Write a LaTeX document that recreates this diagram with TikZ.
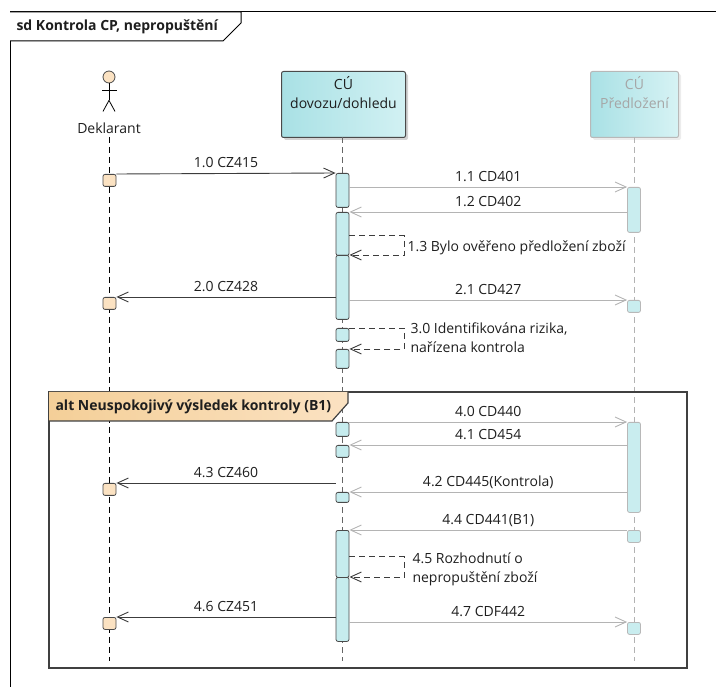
\documentclass[tikz,border=0pt]{standalone}
\usepackage{fontspec}
\setmainfont{Open Sans}
\usetikzlibrary{arrows.meta,shadows}

\definecolor{actfill}{HTML}{C6ECEE}
\definecolor{actline}{HTML}{4A4A4A}
\definecolor{palefill}{HTML}{C9EDEF}
\definecolor{paleline}{HTML}{B8B8B8}
\definecolor{peach}{HTML}{FBE2C2}
\definecolor{peachdark}{HTML}{F4CF98}
\definecolor{hdrleft}{HTML}{A9E1E5}
\definecolor{hdrright}{HTML}{D2F1F3}
\definecolor{msgdark}{HTML}{3C3C3C}
\definecolor{msgpale}{HTML}{B4B4B4}
\definecolor{txt}{HTML}{1E1E1E}

\begin{document}
\begin{tikzpicture}[x=1pt, y=-1pt,
	font=\fontsize{14}{19}\selectfont, text=txt,
	lifeline/.style={dash pattern=on 6pt off 4pt, line width=0.8pt},
	act/.style={rectangle, rounded corners=2pt, minimum width=13, inner sep=0pt,
		draw=actline, fill=actfill, line width=0.8pt, anchor=north},
	actpale/.style={act, draw=paleline, fill=palefill},
	actdekl/.style={act, fill=peach},
	msg/.style={-{Straight Barb[length=11pt,width=10pt]}, line width=0.9pt, draw=msgdark},
	msgpale/.style={msg, draw=msgpale},
	selfmsg/.style={msg, dash pattern=on 6pt off 4pt},
	lbl/.style={midway, anchor=base, yshift=5.5pt},
	frame/.style={line width=1pt, draw=black}]
	
	\useasboundingbox (0,0) rectangle (716,687);
	
	% outer frame and its title tab
	\draw[frame] (10,12) rectangle (730,700);
	\draw[frame, fill=white] (10,12) -- (241,12) -- (241,23) -- (223,41) -- (10,41);
	\node[anchor=west, font=\fontsize{14}{19}\selectfont\bfseries] (title) at (13,27) {sd Kontrola CP, nepropuštění};
	
	% the actor
	\node[circle, draw=actline, fill=peach, minimum size=12, inner sep=0pt, line width=0.8pt] (head) at (109,77) {};
	\draw[line width=0.8pt] (head.south) -- ++(0,17) coordinate (hip);
	\draw[line width=0.8pt] (102,90) -- (117,90);
	\draw[line width=0.8pt] (hip) -- ++(-6,11);
	\draw[line width=0.8pt] (hip) -- ++(6,11);
	\node (deklname) at (109,128) {Deklarant};
	
	% the two office heads
	\node[rounded corners=2pt, minimum width=124, minimum height=66, anchor=north west, draw=actline,
		line width=1pt, left color=hdrleft, right color=hdrright,
		drop shadow={shadow xshift=2.5pt, shadow yshift=-2.5pt, opacity=0.35}] (cu) at (281,71) {};
	\node[anchor=north, align=center, yshift=-2pt] (cutxt) at (cu.north) {CÚ\\dovozu/dohledu};
	\node[rounded corners=2pt, minimum width=88, minimum height=66, anchor=north west, draw=paleline,
		line width=1pt, left color=hdrleft, right color=hdrright!90!white,
		drop shadow={shadow xshift=2.5pt, shadow yshift=-2.5pt, opacity=0.15}] (pred) at (590,71) {};
	\node[anchor=north, align=center, yshift=-2pt, text=black!35] (predtxt) at (pred.north) {CÚ\\Předložení};
	
	% lifelines
	\coordinate (bottom) at (0,661);
	\draw[lifeline, draw=black] (deklname.south) -- (deklname.south |- bottom);
	\draw[lifeline, draw=black!60] (342.5,137) -- (342.5,661);
	\draw[lifeline, draw=black!30] (634,137) -- (634,661);
	
	% alt fragment
	\draw[line width=1.2pt, draw=black!75] (49,392) rectangle (687,668);
	\path[left color=peachdark, right color=peach] (49,392) -- (348,392) -- (348,403) -- (332,421) -- (49,421) -- cycle;
	\draw[line width=1.2pt, draw=black!75] (348,392) -- (348,403) -- (332,421) -- (49,421);
	\node[anchor=west, font=\fontsize{14}{19}\selectfont\bfseries] (alttxt) at (52,407) {alt Neuspokojivý výsledek kontroly (B1)};
	
	% activations of Deklarant
	\node[actdekl, minimum height=12] (k1) at (109.5,174) {};
	\node[actdekl, minimum height=12] (k2) at (109.5,297) {};
	\node[actdekl, minimum height=12] (k3) at (109.5,483) {};
	\node[actdekl, minimum height=12] (k4) at (109.5,617) {};
	
	% activations of CU dovozu/dohledu
	\node[act, minimum height=34] (a1) at (342.5,173) {};
	\node[act, minimum height=43] (a2) at (342.5,212) {};
	\node[act, minimum height=64] (a3) at (342.5,255) {};
	\node[act, minimum height=13] (a4) at (342.5,328) {};
	\node[act, minimum height=19] (a5) at (342.5,349) {};
	\node[act, minimum height=14] (a6) at (342.5,422) {};
	\node[act, minimum height=12] (a7) at (342.5,445) {};
	\node[act, minimum height=10] (a8) at (342.5,492) {};
	\node[act, minimum height=47] (a9) at (342.5,530) {};
	\node[act, minimum height=64] (a10) at (342.5,577) {};
	
	% activations of CU Predlozeni
	\node[actpale, minimum height=45] (p1) at (634,187) {};
	\node[actpale, minimum height=12] (p2) at (634,300) {};
	\node[actpale, minimum height=90] (p3) at (634,422) {};
	\node[actpale, minimum height=12] (p4) at (634,530) {};
	\node[actpale, minimum height=12] (p5) at (634,622) {};
	
	% messages
	\draw[msg] (k1.north east) -- (a1.north west) node[lbl] {1.0 CZ415};
	\draw[msgpale] (a1.east |- p1.north) -- (p1.north west) node[lbl] {1.1 CD401};
	\draw[msgpale] (p1.west |- a2.north) -- (a2.north east) node[lbl] {1.2 CD402};
	\draw[selfmsg] ([yshift=-2pt]a2.east) -| ([xshift=55pt]a3.north east) -- (a3.north east);
	\node[anchor=base west] (m13) at (404,252) {1.3 Bylo ověřeno předložení zboží};
	\draw[msg] (a3.west |- k2.north) -- (k2.north east) node[lbl] {2.0 CZ428};
	\draw[msgpale] (a3.east |- p2.north) -- (p2.north west) node[lbl] {2.1 CD427};
	\draw[selfmsg] (a4.north east) -| ([xshift=55pt]a5.north east) -- (a5.north east);
	% base of a two line node is its last line
	\node[anchor=base west, align=left] (m30) at (407,353) {3.0 Identifikována rizika,\\nařízena kontrola};
	
	% inside the alt fragment
	\draw[msgpale] (a6.north east) -- (p3.north west) node[lbl] {4.0 CD440};
	\draw[msgpale] (p3.west |- a7.north) -- (a7.north east) node[lbl] {4.1 CD454};
	\draw[msg] (a8.west |- k3.north) -- (k3.north east) node[lbl] {4.3 CZ460};
	\draw[msgpale] (p3.west |- a8.north) -- (a8.north east) node[lbl] {4.2 CD445(Kontrola)};
	\draw[msgpale] (p4.north west) -- (a9.north east) node[lbl] {4.4 CD441(B1)};
	\draw[selfmsg] ([yshift=-3pt]a9.east) -| ([xshift=55pt]a10.north east) -- (a10.north east);
	\node[anchor=base west, align=left] (m45) at (409,582) {4.5 Rozhodnutí o\\nepropuštění zboží};
	\draw[msg] (a10.west |- k4.north) -- (k4.north east) node[lbl] {4.6 CZ451};
	\draw[msgpale] (a10.east |- p5.north) -- (p5.north west) node[lbl] {4.7 CDF442};
\end{tikzpicture}
\end{document}
